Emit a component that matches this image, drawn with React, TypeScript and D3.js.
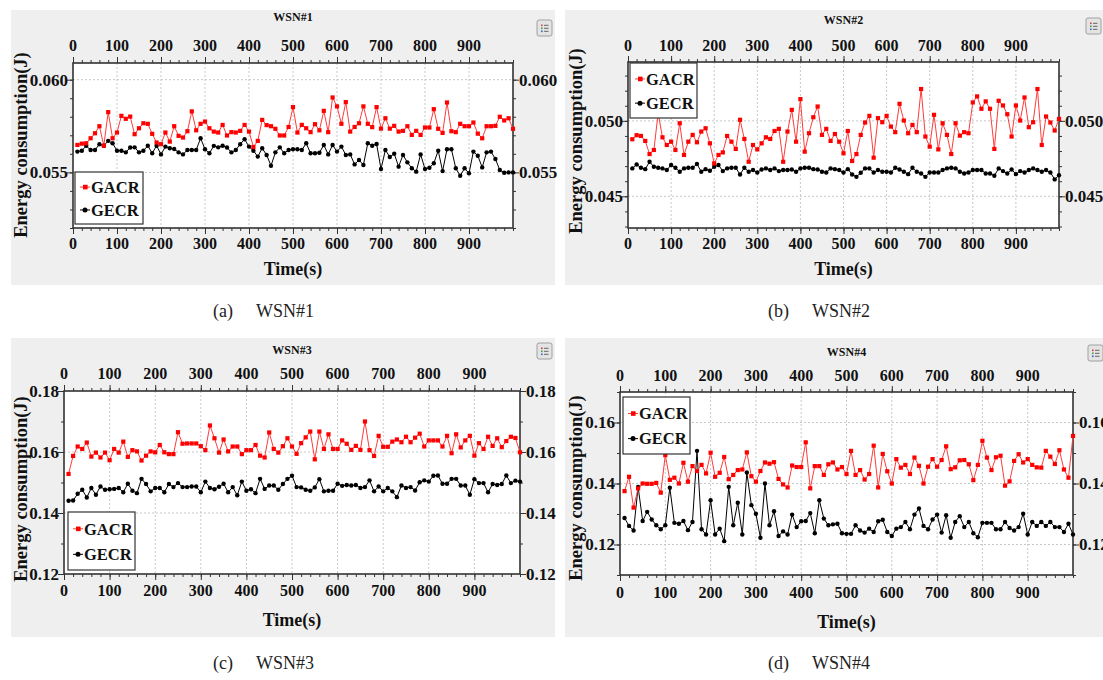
import React, { useEffect, useRef } from "react";
import * as d3 from "d3";

// ---------------- data ----------------
const times = d3.range(10, 1001, 10);
const xTickLabels = [0, 100, 200, 300, 400, 500, 600, 700, 800, 900];

const wsn1GACR = [
  0.05648, 0.05655, 0.05657, 0.05684, 0.05711, 0.05749, 0.05644, 0.05825, 0.05684, 0.05715,
  0.05805, 0.05789, 0.05801, 0.05706, 0.05738, 0.05765, 0.05762, 0.05708, 0.05661, 0.05652,
  0.05715, 0.05666, 0.05749, 0.05697, 0.05688, 0.05722, 0.05829, 0.05727, 0.05762, 0.05774,
  0.05738, 0.0572, 0.05715, 0.05756, 0.05699, 0.05717, 0.05715, 0.05724, 0.05756, 0.0572,
  0.05637, 0.0567, 0.05783, 0.05755, 0.05749, 0.05735, 0.05699, 0.05699, 0.05745, 0.05852,
  0.05715, 0.05756, 0.05738, 0.05717, 0.0576, 0.05727, 0.05832, 0.05717, 0.05904, 0.05856,
  0.05762, 0.05879, 0.0572, 0.05745, 0.05765, 0.05856, 0.05762, 0.05744, 0.05852, 0.05736,
  0.05792, 0.05736, 0.05751, 0.0572, 0.05724, 0.05749, 0.05702, 0.05724, 0.05702, 0.05742,
  0.05742, 0.05841, 0.05735, 0.05713, 0.05877, 0.05722, 0.05717, 0.05762, 0.05749, 0.05749,
  0.05769, 0.05709, 0.05684, 0.05749, 0.05749, 0.05751, 0.058, 0.0578, 0.05792, 0.05735,
];
const wsn1GECR = [
  0.05612, 0.05617, 0.05643, 0.05621, 0.05621, 0.05652, 0.05644, 0.0567, 0.05657, 0.05617,
  0.05617, 0.05608, 0.05634, 0.05635, 0.05608, 0.05617, 0.05644, 0.05603, 0.05644, 0.05597,
  0.05639, 0.0563, 0.05626, 0.05608, 0.05597, 0.05621, 0.05621, 0.05621, 0.05684, 0.05625,
  0.05603, 0.05643, 0.05635, 0.05644, 0.05634, 0.05608, 0.05621, 0.05652, 0.05679, 0.05639,
  0.05617, 0.05585, 0.0563, 0.05594, 0.05536, 0.05608, 0.05635, 0.05603, 0.05621, 0.05625,
  0.05625, 0.05621, 0.05657, 0.05603, 0.05603, 0.05606, 0.05648, 0.05597, 0.05648, 0.05612,
  0.05639, 0.05594, 0.05597, 0.05543, 0.05567, 0.0554, 0.05657, 0.05644, 0.05653, 0.05518,
  0.05621, 0.05583, 0.05601, 0.05531, 0.05594, 0.05554, 0.05522, 0.05504, 0.05597, 0.05518,
  0.05525, 0.05549, 0.05617, 0.05507, 0.05625, 0.05625, 0.05522, 0.05482, 0.05522, 0.05495,
  0.05612, 0.0559, 0.05527, 0.05608, 0.05612, 0.05572, 0.05513, 0.05498, 0.055, 0.055,
];
const wsn2GACR = [
  0.04878, 0.04905, 0.049, 0.04867, 0.0478, 0.04807, 0.05051, 0.04891, 0.0484, 0.04862,
  0.04807, 0.04984, 0.04774, 0.04862, 0.04907, 0.04858, 0.04929, 0.04951, 0.04851, 0.04718,
  0.04774, 0.04791, 0.049, 0.04862, 0.04814, 0.05007, 0.0488, 0.04729, 0.0484, 0.04811,
  0.04851, 0.04891, 0.0488, 0.04933, 0.04947, 0.04729, 0.04929, 0.05073, 0.04862, 0.05144,
  0.04796, 0.04918, 0.05024, 0.05095, 0.04907, 0.04947, 0.04867, 0.04913, 0.04862, 0.04785,
  0.04933, 0.04734, 0.0478, 0.04907, 0.04989, 0.05033, 0.04756, 0.05018, 0.04991, 0.05033,
  0.04962, 0.04925, 0.05113, 0.05002, 0.04918, 0.04973, 0.04925, 0.05211, 0.04896, 0.04829,
  0.0504, 0.04811, 0.04984, 0.04907, 0.0478, 0.04984, 0.04902, 0.04925, 0.04918, 0.05122,
  0.05162, 0.0508, 0.05129, 0.0508, 0.04814, 0.05133, 0.05102, 0.05044, 0.04896, 0.05102,
  0.05002, 0.05155, 0.04958, 0.04991, 0.05211, 0.0484, 0.05029, 0.04989, 0.04936, 0.05013,
];
const wsn2GECR = [
  0.04685, 0.04711, 0.04689, 0.0468, 0.04729, 0.04696, 0.04689, 0.04685, 0.04674, 0.04707,
  0.04689, 0.04663, 0.04685, 0.04689, 0.04689, 0.04714, 0.04663, 0.0468, 0.04669, 0.04696,
  0.04707, 0.04667, 0.04685, 0.04689, 0.04689, 0.04645, 0.04689, 0.04663, 0.04674, 0.04658,
  0.04678, 0.04685, 0.04674, 0.04685, 0.04667, 0.04674, 0.04674, 0.04678, 0.04663, 0.04685,
  0.04689, 0.04689, 0.0468, 0.04678, 0.04663, 0.04658, 0.04685, 0.0468, 0.04674, 0.04658,
  0.0468, 0.04645, 0.04629, 0.04656, 0.04685, 0.04685, 0.04658, 0.04674, 0.04663, 0.04663,
  0.04658, 0.04689, 0.04678, 0.04663, 0.04647, 0.04689, 0.04663, 0.04651, 0.04629, 0.04658,
  0.04658, 0.04658, 0.04674, 0.04685, 0.04689, 0.04685, 0.04663, 0.04651, 0.04658, 0.04674,
  0.04674, 0.04674, 0.04651, 0.04651, 0.04636, 0.04685, 0.04667, 0.04651, 0.04678, 0.04647,
  0.04667, 0.04658, 0.04674, 0.04685, 0.04674, 0.04663, 0.04674, 0.04658, 0.04612, 0.0464,
];
const wsn3GACR = [
  0.1528, 0.1587, 0.1618, 0.161, 0.1631, 0.1585, 0.1598, 0.1582, 0.1598, 0.1573,
  0.161, 0.1598, 0.1634, 0.1584, 0.1606, 0.1602, 0.1572, 0.1588, 0.1602, 0.1599,
  0.1623, 0.1599, 0.1593, 0.1593, 0.1665, 0.1627, 0.1628, 0.1628, 0.1628, 0.1619,
  0.1606, 0.1687, 0.1645, 0.1598, 0.1641, 0.1602, 0.1618, 0.1618, 0.1593, 0.1606,
  0.1606, 0.1623, 0.1588, 0.1582, 0.1664, 0.161, 0.1598, 0.1619, 0.1645, 0.1618,
  0.1594, 0.1629, 0.1648, 0.1667, 0.1576, 0.1667, 0.161, 0.1658, 0.161, 0.161,
  0.1638, 0.1627, 0.1607, 0.162, 0.1607, 0.17, 0.1606, 0.1587, 0.1653, 0.1617,
  0.1617, 0.1634, 0.1641, 0.1632, 0.165, 0.1632, 0.1647, 0.166, 0.1618, 0.1638,
  0.1638, 0.1638, 0.1618, 0.1653, 0.1596, 0.1658, 0.1615, 0.1638, 0.1653, 0.1588,
  0.1629, 0.161, 0.165, 0.162, 0.1645, 0.1616, 0.1636, 0.165, 0.1646, 0.1599,
];
const wsn3GECR = [
  0.144, 0.1441, 0.1463, 0.1476, 0.1451, 0.1482, 0.146, 0.1487, 0.1476, 0.1478,
  0.1479, 0.1482, 0.1468, 0.1496, 0.1473, 0.1465, 0.1512, 0.1495, 0.1471, 0.1482,
  0.1482, 0.1468, 0.1495, 0.1485, 0.1498, 0.1485, 0.1485, 0.1487, 0.1487, 0.1468,
  0.1503, 0.1482, 0.1478, 0.1486, 0.1496, 0.1468, 0.1485, 0.1458, 0.1503, 0.1473,
  0.1478, 0.1465, 0.1512, 0.1479, 0.149, 0.149, 0.1476, 0.1495, 0.1512, 0.1522,
  0.1485, 0.1484, 0.1476, 0.1473, 0.1484, 0.1511, 0.1471, 0.1473, 0.1473, 0.1496,
  0.1489, 0.1492, 0.149, 0.1492, 0.1482, 0.1485, 0.1507, 0.1471, 0.1487, 0.1471,
  0.1482, 0.1471, 0.1452, 0.149, 0.1482, 0.1485, 0.1474, 0.1501, 0.1507, 0.1503,
  0.1522, 0.1523, 0.1496, 0.1496, 0.1512, 0.1512, 0.149, 0.149, 0.146, 0.1511,
  0.1498, 0.1498, 0.1468, 0.1495, 0.1492, 0.1495, 0.1523, 0.1498, 0.1506, 0.1503,
];
const wsn4GACR = [
  0.1375, 0.1422, 0.1321, 0.1384, 0.14, 0.1399, 0.1399, 0.1402, 0.137, 0.1493,
  0.1412, 0.1419, 0.14, 0.1468, 0.1406, 0.1457, 0.1441, 0.1461, 0.1433, 0.1501,
  0.1422, 0.1435, 0.1487, 0.1414, 0.1428, 0.1444, 0.1446, 0.1502, 0.1424, 0.1406,
  0.1441, 0.1469, 0.1465, 0.147, 0.1415, 0.1397, 0.1387, 0.1459, 0.1454, 0.1454,
  0.1535, 0.1384, 0.1457, 0.1457, 0.1428, 0.1463, 0.1469, 0.1446, 0.1454, 0.1431,
  0.1507, 0.1428, 0.1444, 0.1413, 0.1431, 0.1524, 0.1387, 0.1497, 0.144, 0.14,
  0.148, 0.1452, 0.1461, 0.1431, 0.1485, 0.1458, 0.14, 0.1455, 0.148, 0.1455,
  0.1477, 0.1522, 0.1447, 0.1453, 0.1476, 0.1477, 0.1463, 0.1411, 0.1461, 0.154,
  0.1485, 0.1444, 0.1486, 0.1491, 0.1393, 0.1407, 0.1474, 0.1496, 0.1469, 0.148,
  0.1461, 0.1453, 0.1452, 0.1507, 0.1488, 0.1464, 0.1509, 0.1446, 0.1419, 0.1556,
];
const wsn4GECR = [
  0.1287, 0.1261, 0.1246, 0.1389, 0.1277, 0.1307, 0.1282, 0.1263, 0.125, 0.1263,
  0.1386, 0.1271, 0.1268, 0.1277, 0.1247, 0.1274, 0.1507, 0.125, 0.1233, 0.1345,
  0.1233, 0.1252, 0.1211, 0.1389, 0.1263, 0.1337, 0.1233, 0.1436, 0.1329, 0.1301,
  0.1222, 0.14, 0.1263, 0.1309, 0.1228, 0.1243, 0.1233, 0.1298, 0.1257, 0.1276,
  0.1277, 0.1303, 0.1237, 0.1345, 0.1285, 0.1263, 0.1266, 0.1268, 0.1237, 0.1235,
  0.1235, 0.1263, 0.1246, 0.1239, 0.1252, 0.1241, 0.1276, 0.1281, 0.1241, 0.1228,
  0.1252, 0.1257, 0.1274, 0.125, 0.1298, 0.1318, 0.1261, 0.125, 0.1282, 0.1298,
  0.1239, 0.1296, 0.1222, 0.1274, 0.1293, 0.1257, 0.1274, 0.1237, 0.1224, 0.1271,
  0.1271, 0.1271, 0.125, 0.125, 0.1274, 0.1254, 0.1246, 0.1257, 0.1301, 0.1233,
  0.1274, 0.1261, 0.1274, 0.1261, 0.1274, 0.1257, 0.1257, 0.1241, 0.1268, 0.1233,
];

const wsn1YTicks = [0.055, 0.06];
const wsn2YTicks = [0.045, 0.05];
const wsn3YTicks = [0.12, 0.14, 0.16, 0.18];
const wsn4YTicks = [0.12, 0.14, 0.16];
const seriesNames = ["GACR", "GECR"];

// ---------------- layout ----------------
const FONT = "'Liberation Serif', 'Times New Roman', serif";
const RED = "#ff0000";
const RED_LINE = "#ff3b3b";

type Panel = {
  title: string;
  tag: string;
  gacr: number[];
  gecr: number[];
  yTicks: number[];
  yFmt: string;
  yMinorStep: number;
  bg: [number, number, number, number];
  plot: [number, number, number, number]; // left, top, right, bottom
  yDomain: [number, number];
  titleY: number;
  topLabelY: number;
  bottomLabelY: number;
  xTitleY: number;
  yTitle: [number, number];
  legend: [number, number, number, number];
  caption: [number, number, number];
  icon: [number, number];
};

const panels: Panel[] = [
  {
    title: "WSN#1", tag: "(a)", gacr: wsn1GACR, gecr: wsn1GECR, yTicks: wsn1YTicks, yFmt: ".3f", yMinorStep: 0.001,
    bg: [11, 10, 544, 275], plot: [73, 63, 513, 228], yDomain: [0.052, 0.0609],
    titleY: 21, topLabelY: 51, bottomLabelY: 249, xTitleY: 275, yTitle: [21, 145],
    legend: [75, 172, 68, 52], caption: [213, 256, 317], icon: [537, 20],
  },
  {
    title: "WSN#2", tag: "(b)", gacr: wsn2GACR, gecr: wsn2GECR, yTicks: wsn2YTicks, yFmt: ".3f", yMinorStep: 0.001,
    bg: [565, 10, 538, 275], plot: [628, 62, 1059, 228], yDomain: [0.0429, 0.0539],
    titleY: 24, topLabelY: 51, bottomLabelY: 249, xTitleY: 275, yTitle: [576, 141],
    legend: [630, 63, 67, 55], caption: [768, 812, 317], icon: [1086, 18],
  },
  {
    title: "WSN#3", tag: "(c)", gacr: wsn3GACR, gecr: wsn3GECR, yTicks: wsn3YTicks, yFmt: ".2f", yMinorStep: 0.01,
    bg: [11, 338, 544, 299], plot: [64, 391, 520, 574], yDomain: [0.12, 0.18],
    titleY: 354, topLabelY: 379, bottomLabelY: 596, xTitleY: 626, yTitle: [21, 489],
    legend: [68, 512, 67, 58], caption: [213, 256, 669], icon: [537, 343],
  },
  {
    title: "WSN#4", tag: "(d)", gacr: wsn4GACR, gecr: wsn4GECR, yTicks: wsn4YTicks, yFmt: ".2f", yMinorStep: 0.01,
    bg: [565, 338, 538, 299], plot: [620, 392, 1073, 575], yDomain: [0.11, 0.17],
    titleY: 356, topLabelY: 381, bottomLabelY: 598, xTitleY: 628, yTitle: [576, 488],
    legend: [623, 397, 67, 57], caption: [768, 812, 669], icon: [1088, 345],
  },
];

function drawPanel(svg: d3.Selection<SVGSVGElement, unknown, null, undefined>, p: Panel) {
  const g = svg.append("g");
  const [L, T, R, B] = p.plot;
  g.append("rect").attr("x", p.bg[0]).attr("y", p.bg[1]).attr("width", p.bg[2]).attr("height", p.bg[3]).attr("fill", "#efefef");

  const x = d3.scaleLinear().domain([0, 1000]).range([L, R]);
  const y = d3.scaleLinear().domain(p.yDomain).range([B, T]);

  g.append("rect").attr("x", L).attr("y", T).attr("width", R - L).attr("height", B - T).attr("fill", "#fff");

  // grid
  const grid = g.append("g").attr("stroke", "#c8c8c8").attr("stroke-width", 1).attr("stroke-dasharray", "2,2");
  xTickLabels.filter((t) => t > 0).forEach((t) => {
    grid.append("line").attr("x1", x(t)).attr("x2", x(t)).attr("y1", T).attr("y2", B);
  });
  p.yTicks.forEach((v) => {
    const yy = y(v);
    if (yy > T + 1 && yy < B - 1) grid.append("line").attr("x1", L).attr("x2", R).attr("y1", yy).attr("y2", yy);
  });

  // axes ticks via d3 axis generators
  const xMinor = d3.range(0, 1001, 20);
  const yMinor = d3.range(Math.ceil(p.yDomain[0] / p.yMinorStep - 1e-6), Math.floor(p.yDomain[1] / p.yMinorStep + 1e-6) + 1).map((k) => +(k * p.yMinorStep).toFixed(5));
  const addAxis = (axis: d3.Axis<d3.NumberValue>, tx: number, ty: number) => {
    const a = g.append("g").attr("transform", `translate(${tx},${ty})`).call(axis as any);
    a.select(".domain").remove();
    a.selectAll("text").remove();
    a.selectAll("line").attr("stroke", "#333").attr("stroke-width", 1);
  };
  addAxis(d3.axisBottom(x).tickValues(xMinor).tickSize(3).tickFormat(() => ""), 0, B);
  addAxis(d3.axisBottom(x).tickValues(xTickLabels).tickSize(6).tickFormat(() => ""), 0, B);
  addAxis(d3.axisTop(x).tickValues(xMinor).tickSize(3).tickFormat(() => ""), 0, T);
  addAxis(d3.axisTop(x).tickValues(xTickLabels).tickSize(6).tickFormat(() => ""), 0, T);
  addAxis(d3.axisLeft(y).tickValues(yMinor).tickSize(3).tickFormat(() => ""), L, 0);
  addAxis(d3.axisLeft(y).tickValues(p.yTicks).tickSize(6).tickFormat(() => ""), L, 0);
  addAxis(d3.axisRight(y).tickValues(yMinor).tickSize(3).tickFormat(() => ""), R, 0);
  addAxis(d3.axisRight(y).tickValues(p.yTicks).tickSize(6).tickFormat(() => ""), R, 0);

  // frame
  g.append("rect").attr("x", L).attr("y", T).attr("width", R - L).attr("height", B - T)
    .attr("fill", "none").attr("stroke", "#333").attr("stroke-width", 1.6);

  // x labels
  const txt = (sel: any) => sel.attr("font-family", FONT).attr("font-weight", "bold").attr("fill", "#111");
  xTickLabels.forEach((t) => {
    txt(g.append("text")).attr("x", x(t)).attr("y", p.topLabelY).attr("text-anchor", "middle").attr("font-size", 16).text(t);
    txt(g.append("text")).attr("x", x(t)).attr("y", p.bottomLabelY).attr("text-anchor", "middle").attr("font-size", 16).text(t);
  });
  const fmt = d3.format(p.yFmt);
  p.yTicks.forEach((v) => {
    txt(g.append("text")).attr("x", L - 5).attr("y", y(v)).attr("dy", "0.35em").attr("text-anchor", "end").attr("font-size", 17).text(fmt(v));
    txt(g.append("text")).attr("x", R + 6).attr("y", y(v)).attr("dy", "0.35em").attr("text-anchor", "start").attr("font-size", 17).text(fmt(v));
  });

  // titles
  txt(g.append("text")).attr("x", (L + R) / 2).attr("y", p.titleY).attr("text-anchor", "middle").attr("font-size", 12).text(p.title);
  txt(g.append("text")).attr("x", (L + R) / 2).attr("y", p.xTitleY).attr("text-anchor", "middle").attr("font-size", 18).text("Time(s)");
  txt(g.append("text")).attr("transform", `translate(${p.yTitle[0]},${p.yTitle[1]}) rotate(-90)`).attr("dy", "0.35em")
    .attr("text-anchor", "middle").attr("font-size", 18.5).text("Energy consumption(J)");

  // series
  const clip = g.append("g");
  const line = d3.line<number>().x((_, i) => x(times[i])).y((d) => y(d));
  clip.append("path").attr("d", line(p.gecr)).attr("fill", "none").attr("stroke", "#000").attr("stroke-width", 1);
  clip.append("path").attr("d", line(p.gacr)).attr("fill", "none").attr("stroke", RED_LINE).attr("stroke-width", 1);
  clip.selectAll(null).data(p.gecr).enter().append("circle")
    .attr("cx", (_, i) => x(times[i])).attr("cy", (d) => y(d)).attr("r", 2.2).attr("fill", "#000");
  clip.selectAll(null).data(p.gacr).enter().append("rect")
    .attr("x", (_, i) => x(times[i]) - 2.1).attr("y", (d) => y(d) - 2.1).attr("width", 4.2).attr("height", 4.2).attr("fill", RED);

  // legend
  const [lx, ly, lw, lh] = p.legend;
  const lg = g.append("g");
  lg.append("rect").attr("x", lx).attr("y", ly).attr("width", lw).attr("height", lh).attr("fill", "#fff").attr("stroke", "#333").attr("stroke-width", 1.2);
  const rows = [ly + lh * 0.29, ly + lh * 0.73];
  seriesNames.forEach((name, k) => {
    const cy = rows[k];
    const col = k === 0 ? RED : "#000";
    lg.append("line").attr("x1", lx + 5).attr("x2", lx + 15).attr("y1", cy).attr("y2", cy).attr("stroke", k === 0 ? RED_LINE : "#000").attr("stroke-width", 1);
    if (k === 0) lg.append("rect").attr("x", lx + 8).attr("y", cy - 2.3).attr("width", 4.6).attr("height", 4.6).attr("fill", col);
    else lg.append("circle").attr("cx", lx + 10).attr("cy", cy).attr("r", 2.5).attr("fill", col);
    txt(lg.append("text")).attr("x", lx + 16).attr("y", cy).attr("dy", "0.35em").attr("font-size", 16.5).text(name);
  });

  // menu icon
  const [ix, iy] = p.icon;
  const ic = g.append("g");
  ic.append("rect").attr("x", ix).attr("y", iy).attr("width", 15).attr("height", 16).attr("rx", 2)
    .attr("fill", "#e4e4e4").attr("stroke", "#a0a0a0").attr("stroke-width", 1);
  [0, 1, 2].forEach((k) => {
    ic.append("rect").attr("x", ix + 4).attr("y", iy + 4.5 + k * 3).attr("width", 1.6).attr("height", 1.6).attr("fill", ["#d04040", "#40a040", "#4060d0"][k]);
    ic.append("line").attr("x1", ix + 7).attr("x2", ix + 11.5).attr("y1", iy + 5.3 + k * 3).attr("y2", iy + 5.3 + k * 3).attr("stroke", "#666").attr("stroke-width", 1);
  });

  // caption
  g.append("text").attr("x", p.caption[0]).attr("y", p.caption[2]).attr("font-family", FONT).attr("font-size", 18).attr("fill", "#222").text(p.tag);
  g.append("text").attr("x", p.caption[1]).attr("y", p.caption[2]).attr("font-family", FONT).attr("font-size", 18).attr("fill", "#222").text(p.title);
}

export default function App() {
  const ref = useRef<SVGSVGElement>(null);
  useEffect(() => {
    if (!ref.current) return;
    const svg = d3.select(ref.current);
    svg.selectAll("*").remove();
    svg.append("rect").attr("width", 1103).attr("height", 680).attr("fill", "#fff");
    panels.forEach((p) => drawPanel(svg as any, p));
  }, []);
  return (
    <svg
      ref={ref}
      width={1103}
      height={680}
      style={{ position: "absolute", left: 0, top: 0, display: "block" }}
    />
  );
}
